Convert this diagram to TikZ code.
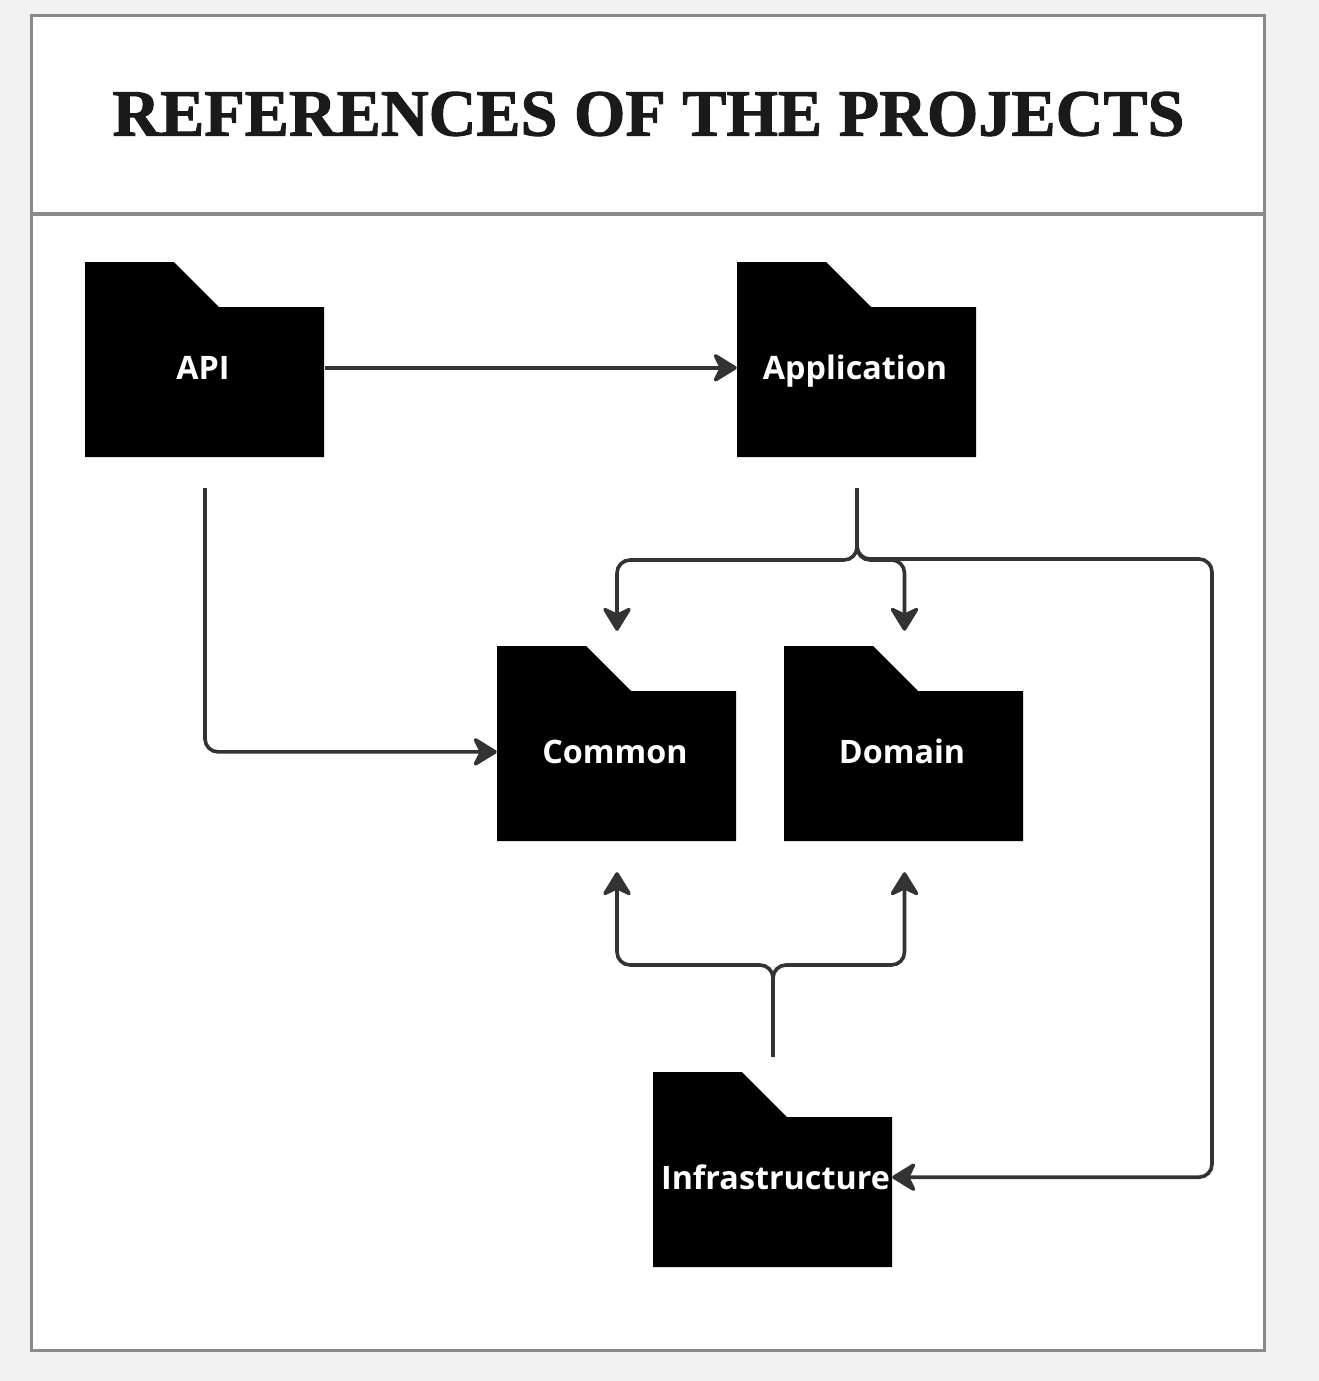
\documentclass[tikz,border=0pt]{standalone}
\usepackage{fontspec}
\setmainfont{Liberation Serif}
\newfontfamily\labelfont{Open Sans}
\usetikzlibrary{arrows.meta}
\definecolor{pagebg}{HTML}{F2F2F2}
\definecolor{framegray}{HTML}{8A8A8A}
\definecolor{linkgray}{HTML}{333333}
\definecolor{titleink}{HTML}{1A1A1A}
\tikzset{
  x=1pt,y=-1pt,
  framebox/.style={draw=framegray,line width=3.4pt,fill=white,inner sep=0pt,minimum width=1233pt,minimum height=1335pt},
  divider/.style={draw=framegray,line width=3.4pt},
  titletext/.style={font=\fontsize{66}{66}\selectfont\bfseries,text=titleink,inner sep=0pt},
  folderbox/.style={inner sep=0pt,minimum width=239pt,minimum height=195pt},
  folderlabel/.style={font=\labelfont\fontsize{32.3}{32.3}\selectfont\bfseries,text=white,inner sep=0pt},
  link/.style={draw=linkgray,line width=3.6pt,rounded corners=13pt},
  tip/.style={-{Stealth[length=27pt,width=33pt,inset=8pt,round]}},
}
\newcommand{\folder}[5]{% name, left, top, text, text centre x
  \fill (#2,#3) -- ++(89,0) -- ++(45,45) -- ++(105,0) -- ++(0,150) -- ++(-239,0) -- cycle;
  \node[folderbox] (#1) at ({#2+119.5},{#3+97.5}) {};
  \node[folderlabel,anchor=base] (#1t) at (#5,{#3+117.4}) {#4};
}
\begin{document}
\begin{tikzpicture}
\useasboundingbox (0,0) rectangle (1319,1381);
\fill[pagebg] (0,0) rectangle (1319,1381);
\node[framebox] (frame) at (648,683) {};
\coordinate (divL) at (frame.west |- 0,214);
\coordinate (divR) at (frame.east |- 0,214);
\draw[divider] (divL) -- (divR);
\node[titletext] (title) at (648.5,114) {\addfontfeatures{LetterSpace=0.2,FakeBold=1.5}REFERENCES OF THE PROJECTS};

\folder{api}{85}{262}{API}{203}
\folder{app}{737}{262}{Application}{855}
\folder{com}{497}{646}{Common}{615}
\folder{dom}{784}{646}{Domain}{902}
\folder{inf}{653}{1072}{Infrastructure}{775.5}

\coordinate (apiOut) at ([yshift=-31pt,xshift=.5pt]api.south);
\coordinate (appOut) at ([yshift=-31pt,xshift=.5pt]app.south);
\coordinate (infOut) at ([yshift=15pt,xshift=.5pt]inf.north);
\coordinate (comTop) at ([yshift=15pt,xshift=.5pt]com.north);
\coordinate (domTop) at ([yshift=15pt,xshift=1pt]dom.north);
\coordinate (comBot) at ([yshift=-31pt,xshift=.5pt]com.south);
\coordinate (domBot) at ([yshift=-31pt,xshift=1pt]dom.south);
\coordinate (busUp) at (857,560);
\coordinate (busFar) at (857,559);
\coordinate (busLow) at (773,965);
\coordinate (rail) at (1212,559);

% API links
\draw[link,tip] ([xshift=1pt]api.east |- apit) -- (app.west |- apit);
\draw[link,tip] (apiOut) -- (apiOut |- comt) -- (com.west |- comt);
% Application links
\draw[link,tip] (appOut) -- (appOut |- busUp) -- (comTop |- busUp) -- (comTop);
\draw[link,tip] (appOut) -- (appOut |- busUp) -- (domTop |- busUp) -- (domTop);
\draw[link,tip] (appOut) -- (appOut |- busFar) -- (rail |- busFar) -- (rail |- inft) -- (inf.east |- inft);
% Infrastructure links
\draw[link,tip] (infOut) -- (infOut |- busLow) -- (comBot |- busLow) -- (comBot);
\draw[link,tip] (infOut) -- (infOut |- busLow) -- (domBot |- busLow) -- (domBot);
\end{tikzpicture}
\end{document}
